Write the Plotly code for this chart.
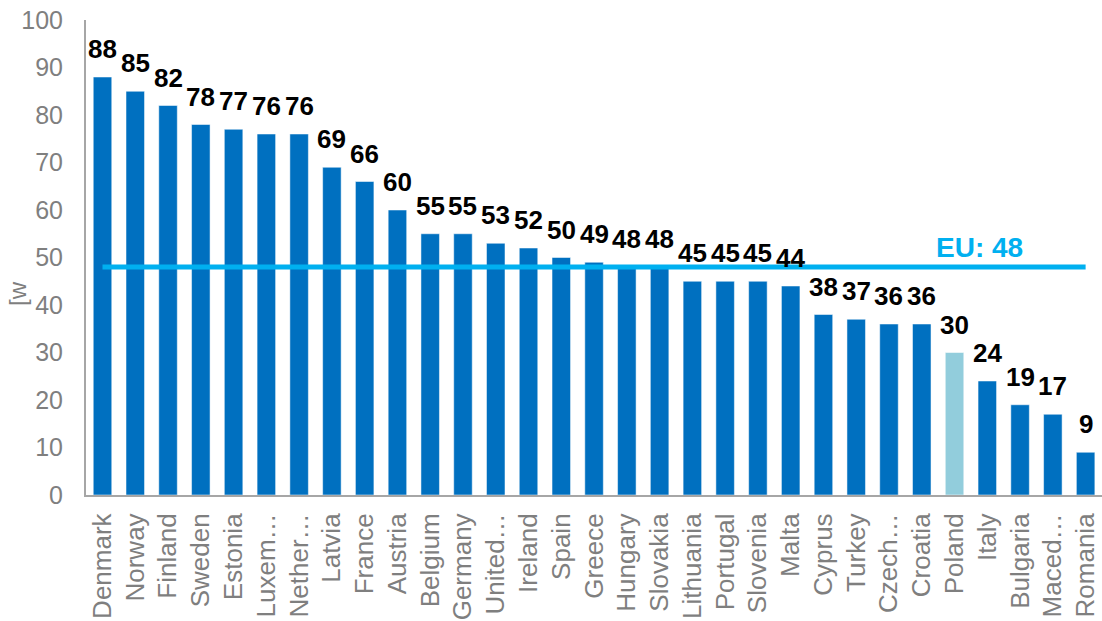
import plotly.graph_objects as go

countries = ["Denmark", "Norway", "Finland", "Sweden", "Estonia", "Luxem…", "Nether…", "Latvia",
             "France", "Austria", "Belgium", "Germany", "United…", "Ireland", "Spain", "Greece",
             "Hungary", "Slovakia", "Lithuania", "Portugal", "Slovenia", "Malta", "Cyprus", "Turkey",
             "Czech…", "Croatia", "Poland", "Italy", "Bulgaria", "Maced…", "Romania"]
values = [88, 85, 82, 78, 77, 76, 76, 69, 66, 60, 55, 55, 53, 52, 50, 49, 48, 48, 45, 45, 45, 44,
          38, 37, 36, 36, 30, 24, 19, 17, 9]
eu_avg = 48
eu_label = "EU: 48"
highlight = "Poland"
y_title = "[w"

FONT = "Liberation Sans, Arial"
colors = ["#92CDDC" if c == highlight else "#0070C0" for c in countries]

fig = go.Figure()
fig.add_trace(go.Bar(
    x=countries, y=values, marker_color=colors,
    marker_line=dict(width=1, color="rgba(255,255,255,0.5)"),
    showlegend=False,
))
fig.add_trace(go.Scatter(
    x=[countries[0], countries[-1]], y=[eu_avg, eu_avg], mode="lines",
    line=dict(color="#00B0F0", width=5), showlegend=False, hoverinfo="skip",
))
for c, v in zip(countries, values):
    fig.add_annotation(x=c, y=v, text=f"<b>{v}</b>", showarrow=False, yanchor="bottom",
                       yshift=11, font=dict(family=FONT, size=26, color="black"))
fig.add_annotation(x=26.75, y=eu_avg, text=f"<b>{eu_label}</b>", showarrow=False,
                   yanchor="bottom", yshift=2,
                   font=dict(family=FONT, size=28, color="#00B0F0"))
fig.add_annotation(xref="paper", yref="paper", x=-0.068, y=0.425, text=y_title,
                   showarrow=False, textangle=-90, xanchor="center", yanchor="middle",
                   font=dict(family=FONT, size=24, color="#7F7F7F"))

fig.update_layout(
    width=1102, height=621, margin=dict(l=86, r=0, t=20, b=126),
    plot_bgcolor="white", paper_bgcolor="white",
    font=dict(family=FONT, size=26, color="#7F7F7F"),
    bargap=0.435,
    xaxis=dict(tickangle=-90, showline=True, linecolor="#A6A6A6", linewidth=2,
               ticks="", ticklabelstandoff=6,
               tickfont=dict(size=26, color="#7F7F7F"), showgrid=False),
    yaxis=dict(range=[0, 100], dtick=10, showline=True, linecolor="#A6A6A6", linewidth=2,
               showgrid=False, zeroline=False, ticks="", ticklabelstandoff=16,
               tickfont=dict(size=25, color="#7F7F7F")),
)
fig.write_html("out.html")
